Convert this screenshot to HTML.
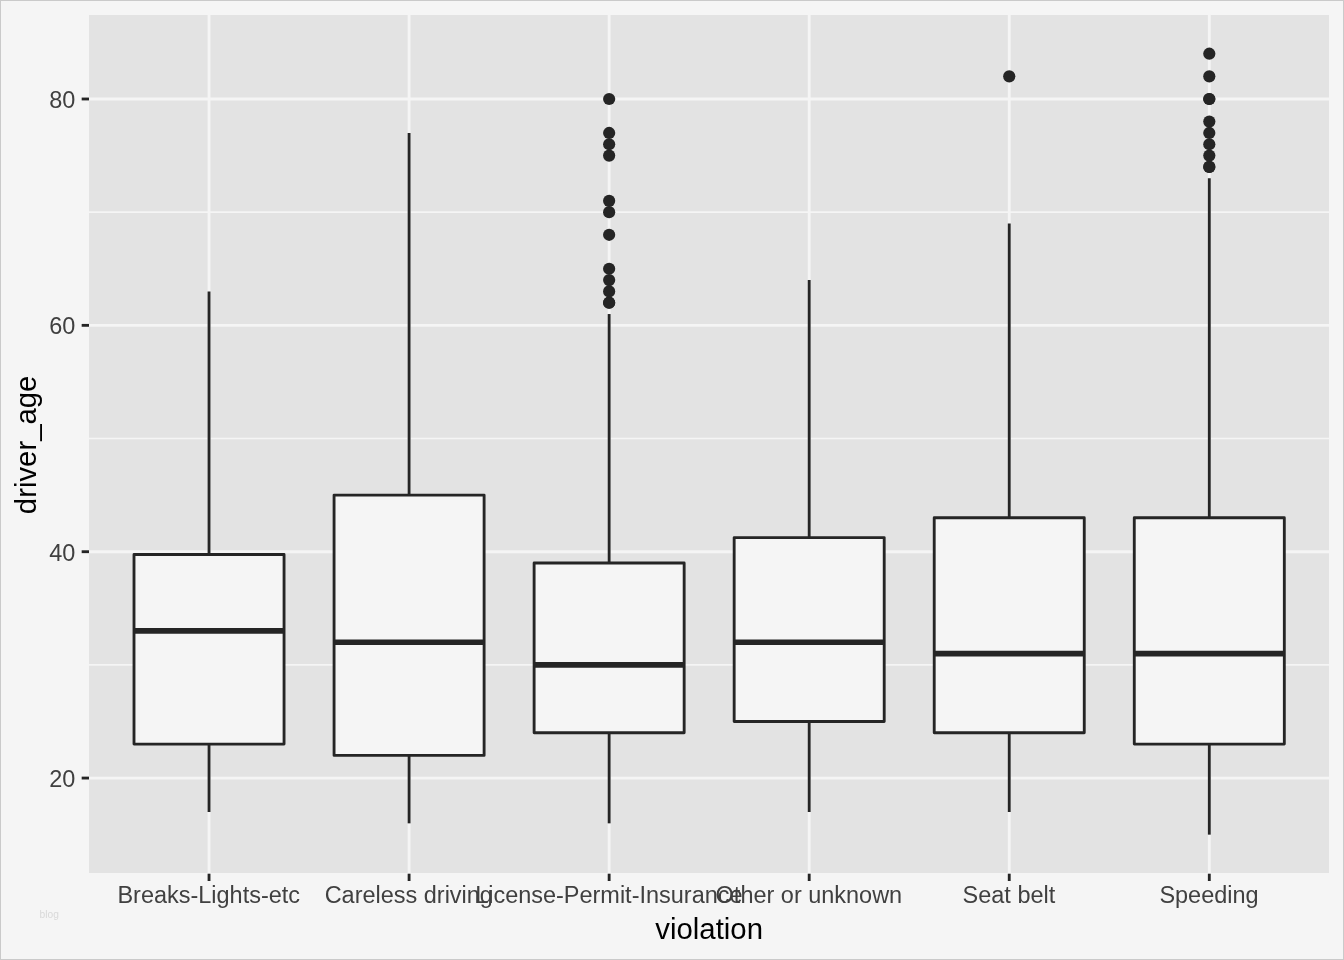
<!DOCTYPE html>
<html><head><meta charset="utf-8"><title>boxplot</title>
<style>
html,body{margin:0;padding:0;background:#f5f5f5;}
body{width:1344px;height:960px;overflow:hidden;font-family:"Liberation Sans",sans-serif;}
svg{display:block;will-change:transform;}
text{font-family:"Liberation Sans",sans-serif;}
</style></head><body>
<svg width="1344" height="960" viewBox="0 0 1344 960">
<rect x="0" y="0" width="1344" height="960" fill="#f5f5f5"/>
<rect x="0.5" y="0.5" width="1343" height="959" fill="none" stroke="#cacaca" stroke-width="1"/>
<rect x="89" y="15" width="1240" height="858" fill="#e3e3e3"/>

<g stroke="#f5f5f5" stroke-width="1.6">
<line x1="89.0" x2="1329.33" y1="664.88" y2="664.88"/>
<line x1="89.0" x2="1329.33" y1="438.53" y2="438.53"/>
<line x1="89.0" x2="1329.33" y1="212.17" y2="212.17"/>
</g>
<g stroke="#f5f5f5" stroke-width="2.85">
<line x1="89.0" x2="1329.33" y1="778.06" y2="778.06"/>
<line x1="89.0" x2="1329.33" y1="551.71" y2="551.71"/>
<line x1="89.0" x2="1329.33" y1="325.35" y2="325.35"/>
<line x1="89.0" x2="1329.33" y1="98.99" y2="98.99"/>
<line x1="209.03" x2="209.03" y1="14.67" y2="873.7"/>
<line x1="409.09" x2="409.09" y1="14.67" y2="873.7"/>
<line x1="609.14" x2="609.14" y1="14.67" y2="873.7"/>
<line x1="809.19" x2="809.19" y1="14.67" y2="873.7"/>
<line x1="1009.24" x2="1009.24" y1="14.67" y2="873.7"/>
<line x1="1209.30" x2="1209.30" y1="14.67" y2="873.7"/>
</g>
<g stroke="#252525" fill="none">
<g fill="#252525" stroke="none">
</g>
<line x1="209.03" x2="209.03" y1="291.39" y2="554.53" stroke-width="2.85"/>
<line x1="209.03" x2="209.03" y1="744.11" y2="812.02" stroke-width="2.85"/>
<rect x="134.01" y="554.53" width="150.04" height="189.58" fill="#f5f5f5" stroke-width="2.85" stroke-linejoin="round"/>
<line x1="134.01" x2="284.05" y1="630.93" y2="630.93" stroke-width="5.7"/>
</g>
<g stroke="#252525" fill="none">
<g fill="#252525" stroke="none">
</g>
<line x1="409.09" x2="409.09" y1="132.94" y2="495.12" stroke-width="2.85"/>
<line x1="409.09" x2="409.09" y1="755.43" y2="823.34" stroke-width="2.85"/>
<rect x="334.07" y="495.12" width="150.04" height="260.31" fill="#f5f5f5" stroke-width="2.85" stroke-linejoin="round"/>
<line x1="334.07" x2="484.11" y1="642.25" y2="642.25" stroke-width="5.7"/>
</g>
<g stroke="#252525" fill="none">
<g fill="#252525" stroke="none">
<circle cx="609.14" cy="302.71" r="6.1"/>
<circle cx="609.14" cy="302.71" r="6.1"/>
<circle cx="609.14" cy="291.39" r="6.1"/>
<circle cx="609.14" cy="280.08" r="6.1"/>
<circle cx="609.14" cy="268.76" r="6.1"/>
<circle cx="609.14" cy="234.80" r="6.1"/>
<circle cx="609.14" cy="212.17" r="6.1"/>
<circle cx="609.14" cy="200.85" r="6.1"/>
<circle cx="609.14" cy="155.58" r="6.1"/>
<circle cx="609.14" cy="144.26" r="6.1"/>
<circle cx="609.14" cy="132.94" r="6.1"/>
<circle cx="609.14" cy="98.99" r="6.1"/>
</g>
<line x1="609.14" x2="609.14" y1="314.03" y2="563.02" stroke-width="2.85"/>
<line x1="609.14" x2="609.14" y1="732.79" y2="823.34" stroke-width="2.85"/>
<rect x="534.12" y="563.02" width="150.04" height="169.77" fill="#f5f5f5" stroke-width="2.85" stroke-linejoin="round"/>
<line x1="534.12" x2="684.16" y1="664.88" y2="664.88" stroke-width="5.7"/>
</g>
<g stroke="#252525" fill="none">
<g fill="#252525" stroke="none">
</g>
<line x1="809.19" x2="809.19" y1="280.08" y2="537.56" stroke-width="2.85"/>
<line x1="809.19" x2="809.19" y1="721.47" y2="812.02" stroke-width="2.85"/>
<rect x="734.17" y="537.56" width="150.04" height="183.92" fill="#f5f5f5" stroke-width="2.85" stroke-linejoin="round"/>
<line x1="734.17" x2="884.21" y1="642.25" y2="642.25" stroke-width="5.7"/>
</g>
<g stroke="#252525" fill="none">
<g fill="#252525" stroke="none">
<circle cx="1009.24" cy="76.35" r="6.1"/>
</g>
<line x1="1009.24" x2="1009.24" y1="223.49" y2="517.75" stroke-width="2.85"/>
<line x1="1009.24" x2="1009.24" y1="732.79" y2="812.02" stroke-width="2.85"/>
<rect x="934.22" y="517.75" width="150.04" height="215.04" fill="#f5f5f5" stroke-width="2.85" stroke-linejoin="round"/>
<line x1="934.22" x2="1084.26" y1="653.57" y2="653.57" stroke-width="5.7"/>
</g>
<g stroke="#252525" fill="none">
<g fill="#252525" stroke="none">
<circle cx="1209.30" cy="166.90" r="6.1"/>
<circle cx="1209.30" cy="166.90" r="6.1"/>
<circle cx="1209.30" cy="155.58" r="6.1"/>
<circle cx="1209.30" cy="144.26" r="6.1"/>
<circle cx="1209.30" cy="132.94" r="6.1"/>
<circle cx="1209.30" cy="121.62" r="6.1"/>
<circle cx="1209.30" cy="98.99" r="6.1"/>
<circle cx="1209.30" cy="98.99" r="6.1"/>
<circle cx="1209.30" cy="76.35" r="6.1"/>
<circle cx="1209.30" cy="53.72" r="6.1"/>
</g>
<line x1="1209.30" x2="1209.30" y1="178.21" y2="517.75" stroke-width="2.85"/>
<line x1="1209.30" x2="1209.30" y1="744.11" y2="834.65" stroke-width="2.85"/>
<rect x="1134.28" y="517.75" width="150.04" height="226.36" fill="#f5f5f5" stroke-width="2.85" stroke-linejoin="round"/>
<line x1="1134.28" x2="1284.32" y1="653.57" y2="653.57" stroke-width="5.7"/>
</g>
<g stroke="#252525" stroke-width="2.85">
<line x1="81.67" x2="89.0" y1="778.06" y2="778.06"/>
<line x1="81.67" x2="89.0" y1="551.71" y2="551.71"/>
<line x1="81.67" x2="89.0" y1="325.35" y2="325.35"/>
<line x1="81.67" x2="89.0" y1="98.99" y2="98.99"/>
<line x1="209.03" x2="209.03" y1="873.7" y2="881.03"/>
<line x1="409.09" x2="409.09" y1="873.7" y2="881.03"/>
<line x1="609.14" x2="609.14" y1="873.7" y2="881.03"/>
<line x1="809.19" x2="809.19" y1="873.7" y2="881.03"/>
<line x1="1009.24" x2="1009.24" y1="873.7" y2="881.03"/>
<line x1="1209.30" x2="1209.30" y1="873.7" y2="881.03"/>
</g>
<g fill="#404040" font-size="23.47px">
<text x="75.4" y="786.86" text-anchor="end">20</text>
<text x="75.4" y="560.51" text-anchor="end">40</text>
<text x="75.4" y="334.15" text-anchor="end">60</text>
<text x="75.4" y="107.79" text-anchor="end">80</text>
<text x="208.73" y="903.3" text-anchor="middle">Breaks-Lights-etc</text>
<text x="408.79" y="903.3" text-anchor="middle">Careless driving</text>
<text x="608.84" y="903.3" text-anchor="middle">License-Permit-Insurance</text>
<text x="808.89" y="903.3" text-anchor="middle">Other or unknown</text>
<text x="1008.94" y="903.3" text-anchor="middle">Seat belt</text>
<text x="1209.00" y="903.3" text-anchor="middle">Speeding</text>
</g>
<text x="709.16" y="939.4" text-anchor="middle" font-size="29.33px" fill="#000">violation</text>
<text transform="translate(36,444.88) rotate(-90)" text-anchor="middle" font-size="29.33px" fill="#000">driver_age</text>
<text x="39.6" y="917.8" font-size="10.2px" fill="#d9d9d9">blog</text>
</svg></body></html>
